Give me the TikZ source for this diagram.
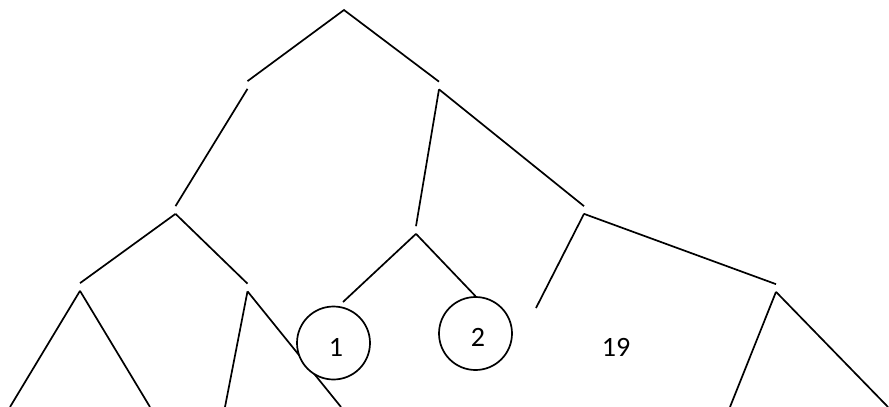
\documentclass[tikz,border=0pt]{standalone}
\usepackage{fontspec}
\setmainfont{Carlito}
\usetikzlibrary{positioning}

\begin{document}
\begin{tikzpicture}[
    x=1pt, y=-1pt,
    line width=1.7pt,
    font=\fontsize{28}{33}\selectfont,
    split/.style={inner sep=0pt, minimum width=0pt, minimum height=6pt},
    leafcirc/.style={draw, circle, fill=white, inner sep=0pt, minimum size=73pt},
    edge/.style={draw, line cap=butt}
]
\useasboundingbox (0,0) rectangle (889,407);

% split points of the tree
\coordinate (root) at (344,10);
\node[split] (nl)   at (247.5,85)  {};
\node[split] (nr)   at (439,85.5)  {};
\node[split] (nll)  at (175.5,210) {};
\node[split] (nrm)  at (416,230)   {};
\node[split] (nrr)  at (584,210)   {};
\node[split] (nlll) at (80,287)    {};
\node[split] (nllr) at (247.5,287.5) {};
\node[split] (nrrr) at (776,288)   {};

% free ends
\coordinate (b1) at (10,407);
\coordinate (b2) at (150,407);
\coordinate (b3) at (225,407);
\coordinate (b4) at (341,407);
\coordinate (b5) at (730,407);
\coordinate (b6) at (888,407);
\coordinate (e19) at (536,308);
\coordinate (e1) at (343,302);

\draw[edge] (nl.north) -- (root) -- (nr.north);
\draw[edge] (nl.south) -- (nll.north);
\draw[edge] (nr.south) -- (nrm.north);
\draw[edge] (nr.south) -- (nrr.north);
\draw[edge] (nll.south) -- (nlll.north);
\draw[edge] (nll.south) -- (nllr.north);
\draw[edge] (nlll.south) -- (b1);
\draw[edge] (nlll.south) -- (b2);
\draw[edge] (nllr.south) -- (b3);
\draw[edge] (nllr.south) -- (b4);
\draw[edge] (nrr.south) -- (e19);
\draw[edge] (nrr.south) -- (nrrr.north);
\draw[edge] (nrrr.south) -- (b5);
\draw[edge] (nrrr.south) -- (b6);

% leaves
\node[leafcirc] (c1) at (333.5,343) {};
\node at (336,347) {1};
\node[leafcirc] (c2) at (475.5,333.5) {};
\node at (478,337) {2};
\node (n19) at (616,347.5) {19};

\draw[edge] (nrm.south) -- (e1);
\draw[edge] (nrm.south) -- (c2.north);
\end{tikzpicture}
\end{document}
